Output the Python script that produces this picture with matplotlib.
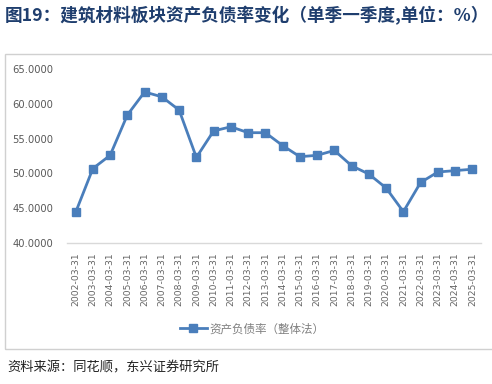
import matplotlib
matplotlib.use("Agg")
import matplotlib.pyplot as plt
from matplotlib.patches import Rectangle

plt.rcParams['font.family'] = ['Noto Sans CJK SC', 'DejaVu Sans']

dates = ["2002-03-31", "2003-03-31", "2004-03-31", "2005-03-31", "2006-03-31",
         "2007-03-31", "2008-03-31", "2009-03-31", "2010-03-31", "2011-03-31",
         "2012-03-31", "2013-03-31", "2014-03-31", "2015-03-31", "2016-03-31",
         "2017-03-31", "2018-03-31", "2019-03-31", "2020-03-31", "2021-03-31",
         "2022-03-31", "2023-03-31", "2024-03-31", "2025-03-31"]
ratio = [44.4, 50.7, 52.6, 58.4, 61.7, 61.0, 59.1, 52.3, 56.1, 56.7,
         55.85, 55.85, 54.0, 52.4, 52.6, 53.3, 51.1, 49.9, 47.9, 44.5,
         48.7, 50.2, 50.4, 50.6]
yticks = [40, 45, 50, 55, 60, 65]
series_name = "资产负债率（整体法）"
title = "图19：建筑材料板块资产负债率变化（单季一季度,单位：%）"
source = "资料来源：同花顺，东兴证券研究所"

W, H = 492, 384
fig = plt.figure(figsize=(W / 100, H / 100), dpi=100)
ax = fig.add_axes([67 / W, 1 - 243 / H, (481 - 67) / W, (243 - 69) / H])

x = list(range(len(dates)))
line, = ax.plot(x, ratio, color="#4A7EBB", lw=2.0, marker="s", markersize=5.5,
                markerfacecolor="#4A7EBB", markeredgecolor="#4A7EBB",
                label=series_name)

ax.set_xlim(-0.5, len(dates) - 0.5)
ax.set_ylim(40, 65)
ax.set_yticks(yticks)
ax.set_yticklabels([f"{v:.4f}" for v in yticks], fontsize=7.2, color="#595959",
                   family="DejaVu Sans")
ax.set_xticks(x)
ax.set_xticklabels(dates, rotation=90, fontsize=6.7, color="#666666",
                   family="DejaVu Sans")
ax.tick_params(axis="both", length=0)
ax.tick_params(axis="y", pad=10)
ax.tick_params(axis="x", pad=7)
for s in ["top", "right", "left"]:
    ax.spines[s].set_visible(False)
ax.spines["bottom"].set_color("#D9D9D9")
ax.spines["bottom"].set_linewidth(1.0)

# outer chart frame
fig.patches.append(Rectangle((5 / W, 1 - 349 / H), W / W, (349 - 54) / H,
                             transform=fig.transFigure, fill=False,
                             edgecolor="#D0D0D0", lw=1.0))

leg = fig.legend(handles=[line], loc="center", bbox_to_anchor=(252 / W, 1 - 329 / H),
                 frameon=False, fontsize=8.3, handlelength=2.4, handletextpad=0.2,
                 borderaxespad=0)
for t in leg.get_texts():
    t.set_color("#7F7F7F")

fig.text(5 / W, 1 - 16 / H, title, fontsize=12.7, fontweight="bold",
         color="#1F3E6E", ha="left", va="center")
fig.text(7 / W, 1 - 368 / H, source, fontsize=9.5, style="italic",
         color="#222222", ha="left", va="center")

fig.savefig("out.png", dpi=100)
